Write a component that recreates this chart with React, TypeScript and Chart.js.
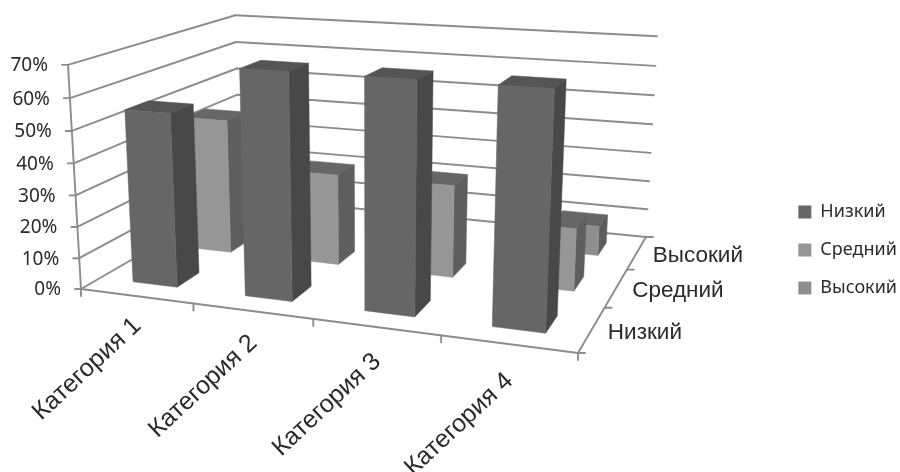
import React, { useEffect, useRef } from "react";
import { Chart, registerables, BarController } from "chart.js";

Chart.register(...registerables);

const categories = ["Категория 1", "Категория 2", "Категория 3", "Категория 4"];
const seriesNames = ["Низкий", "Средний", "Высокий"];
const lowValues = [55, 70, 70, 70];
const midValues = [45, 30, 30, 20];
const highValues = [0, 0, 0, 10];

const FONT_AXIS = '"Liberation Sans", Arial, sans-serif';
const FONT_LEGEND = '"Noto Sans", sans-serif';
const TEXT = "#2a2a2a";
const GRID = "#8c8c8c";

type Pt = [number, number];

// Projective camera: floor quad (front-left, front-right, back-right, back-left) plus a vertical vanishing point.
function makeCamera(q: Pt[], vp: Pt, tau: number) {
  const [[x0, y0], [x1, y1], [x2, y2], [x3, y3]] = q;
  const dx1 = x1 - x2, dx2 = x3 - x2, sx = x0 - x1 + x2 - x3;
  const dy1 = y1 - y2, dy2 = y3 - y2, sy = y0 - y1 + y2 - y3;
  const den = dx1 * dy2 - dx2 * dy1;
  const g = (sx * dy2 - dx2 * sy) / den;
  const h = (dx1 * sy - sx * dy1) / den;
  const a = x1 - x0 + g * x1, b = x3 - x0 + h * x3;
  const d = y1 - y0 + g * y1, e = y3 - y0 + h * y3;
  return (u: number, v: number, z: number): Pt => {
    const w = g * u + h * v + 1 + tau * z;
    return [
      (a * u + b * v + x0 + tau * z * vp[0]) / w,
      (d * u + e * v + y0 + tau * z * vp[1]) / w,
    ];
  };
}

const project = makeCamera([[81, 289], [578, 353], [646, 237], [240, 197]], [370, 5264], -0.0431);

const BAR_HALF_U = 0.05;
const BAR_HALF_V = 0.065;

function poly(ctx: CanvasRenderingContext2D, pts: Pt[], color: string) {
  ctx.beginPath();
  pts.forEach((p, i) => (i ? ctx.lineTo(p[0], p[1]) : ctx.moveTo(p[0], p[1])));
  ctx.closePath();
  ctx.fillStyle = color;
  ctx.strokeStyle = color;
  ctx.lineWidth = 0.5;
  ctx.fill();
  ctx.stroke();
}

class Bar3DController extends BarController {
  static id = "bar3d";
  static defaults = BarController.defaults;
  static overrides = BarController.overrides;
  draw() {
    const chart = this.chart;
    const ctx = chart.ctx;
    const ds: any = this.getDataset();
    const xs: any = chart.scales.x;
    const ys: any = chart.scales.y;
    const rows = chart.data.datasets.length;
    const vc = (this.index + 0.5) / rows;
    const n = ds.data.length;
    for (let i = n - 1; i >= 0; i--) {
      const value = (this.getParsed(i) as any).y;
      if (!(value > 0)) continue;
      const uc = (xs.getPixelForValue(i) - xs.left) / xs.width;
      const h = (ys.bottom - ys.getPixelForValue(value)) / ys.height;
      const u0 = uc - BAR_HALF_U, u1 = uc + BAR_HALF_U;
      const v0 = vc - BAR_HALF_V, v1 = vc + BAR_HALF_V;
      poly(ctx, [project(u0, v0, h), project(u1, v0, h), project(u1, v1, h), project(u0, v1, h)], ds.topColor);
      poly(ctx, [project(u1, v0, 0), project(u1, v1, 0), project(u1, v1, h), project(u1, v0, h)], ds.sideColor);
      poly(ctx, [project(u0, v0, 0), project(u1, v0, 0), project(u1, v0, h), project(u0, v0, h)], ds.backgroundColor);
    }
  }
}
Chart.register(Bar3DController as any);

function line(ctx: CanvasRenderingContext2D, a: Pt, b: Pt) {
  ctx.beginPath();
  ctx.moveTo(a[0], a[1]);
  ctx.lineTo(b[0], b[1]);
  ctx.stroke();
}

const wallsPlugin = {
  id: "walls3d",
  beforeDatasetsDraw(chart: any) {
    const ctx: CanvasRenderingContext2D = chart.ctx;
    const ys = chart.scales.y;
    const xs = chart.scales.x;
    ctx.save();
    ctx.strokeStyle = GRID;
    ctx.lineWidth = 1.9;
    ctx.lineCap = "round";
    ys.ticks.forEach((tick: any) => {
      const h = (ys.bottom - ys.getPixelForValue(tick.value)) / ys.height;
      const p = project(0, 0, h);
      line(ctx, p, project(0, 1, h));
      line(ctx, project(0, 1, h), project(1, 1, h));
      line(ctx, [p[0] - 6, p[1]], p);
      ctx.fillStyle = TEXT;
      ctx.font = `19px ${FONT_LEGEND}`;
      ctx.textAlign = "right";
      ctx.textBaseline = "middle";
      ctx.fillText(`${tick.value}%`, p[0] - 20, p[1] + 1);
    });
    line(ctx, project(0, 0, 0), project(0, 0, 1));
    line(ctx, project(0, 0, 0), project(1, 0, 0));
    line(ctx, project(1, 0, 0), project(1, 1, 0));
    for (let i = 0; i <= categories.length; i++) {
      const t = project(i / categories.length, 0, 0);
      line(ctx, t, [t[0], t[1] + 7]);
    }
    categories.forEach((c, i) => {
      const u = (xs.getPixelForValue(i) - xs.left) / xs.width;
      const p = project(u, 0, 0);
      ctx.save();
      ctx.translate(p[0] + 1, p[1] + 26 + i * 2.5);
      ctx.rotate((-43 * Math.PI) / 180);
      ctx.fillStyle = TEXT;
      ctx.font = `25px ${FONT_AXIS}`;
      ctx.textAlign = "right";
      ctx.textBaseline = "middle";
      ctx.fillText(c, 0, 0);
      ctx.restore();
    });
    for (let j = 0; j <= seriesNames.length; j++) {
      const t = project(1, j / seriesNames.length, 0);
      line(ctx, t, [t[0] + 7, t[1]]);
    }
    seriesNames.forEach((s, j) => {
      const p = project(1, (j + 0.5) / seriesNames.length, 0);
      ctx.fillStyle = TEXT;
      ctx.font = `22.5px ${FONT_AXIS}`;
      ctx.textAlign = "left";
      ctx.textBaseline = "middle";
      ctx.fillText(s, p[0] + 16, p[1] + 3);
    });
    ctx.restore();
  },
};

export default function App() {
  const ref = useRef<HTMLCanvasElement>(null);
  useEffect(() => {
    const chart = new Chart(ref.current as HTMLCanvasElement, {
      type: "bar3d" as any,
      data: {
        labels: categories,
        datasets: [
          { label: seriesNames[0], data: lowValues, backgroundColor: "#666666", sideColor: "#484848", topColor: "#555555", clip: false },
          { label: seriesNames[1], data: midValues, backgroundColor: "#969696", sideColor: "#5e5e5e", topColor: "#666666", clip: false },
          { label: seriesNames[2], data: highValues, backgroundColor: "#8e8e8e", sideColor: "#5c5c5c", topColor: "#666666", clip: false },
        ] as any,
      },
      options: {
        responsive: false,
        animation: false,
        events: [],
        layout: { padding: { top: 28, right: -7 } },
        scales: {
          x: { type: "category", offset: true, display: false },
          y: { type: "linear", min: 0, max: 70, display: false, ticks: { stepSize: 10 } },
        },
        plugins: {
          tooltip: { enabled: false },
          legend: {
            position: "right",
            labels: {
              boxWidth: 13,
              boxHeight: 13,
              padding: 20,
              color: TEXT,
              font: { family: FONT_LEGEND, size: 18 },
            },
          },
        },
      } as any,
      plugins: [wallsPlugin],
    });
    return () => chart.destroy();
  }, []);
  return (
    <canvas
      ref={ref}
      width={900}
      height={472}
      style={{ position: "absolute", left: 0, top: 0, display: "block", width: 900, height: 472 }}
    />
  );
}
